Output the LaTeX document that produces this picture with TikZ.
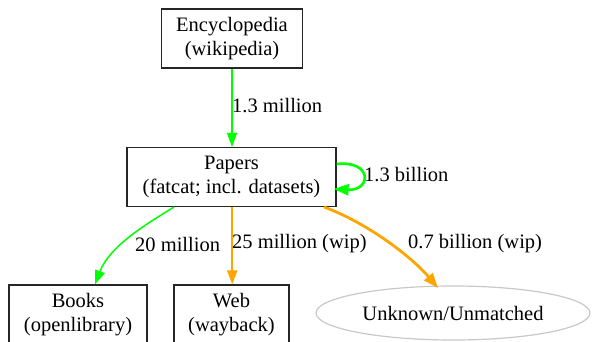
\documentclass[tikz,border=0pt]{standalone}
\usepackage{fontspec}
\setmainfont{Liberation Serif}
\usetikzlibrary{arrows.meta,shapes.geometric,calc}
\definecolor{gvgreen}{HTML}{00FF00}
\definecolor{gvorange}{HTML}{FFA500}
\definecolor{gvgray}{HTML}{C8C8C8}
\begin{document}
\begin{tikzpicture}[x=1pt,y=1pt,
  every node/.style={font=\fontsize{20.5}{24.5}\selectfont},
  boxnode/.style={draw=black!85,line width=1.2pt,rectangle,inner sep=0pt,align=center},
  lbl/.style={anchor=west,inner sep=0pt},
  tipA/.style={-{Triangle[length=14pt,width=10pt]}},
  thinedge/.style={tipA,line width=1.5pt},
  thickedge/.style={-{Triangle[length=15pt,width=11pt]},line width=2.8pt}]
\useasboundingbox (0,0) rectangle (592,-342);
\node[boxnode,minimum width=141pt,minimum height=59pt] (enc) at (232,-38.5) {Encyclopedia\\(wikipedia)};
\node[boxnode,minimum width=209pt,minimum height=59pt] (pap) at (231.5,-177) {Papers\\(fatcat; incl. datasets)};
\node[boxnode,minimum width=138pt,minimum height=59pt] (books) at (78,-314.5) {Books\\(openlibrary)};
\node[boxnode,minimum width=115pt,minimum height=59pt] (web) at (231.5,-314.5) {Web\\(wayback)};
\node[draw=gvgray,line width=1.2pt,ellipse,inner sep=0pt,minimum width=274pt,minimum height=54pt] (unk) at (453,-313) {Unknown/Unmatched};

\draw[thinedge,gvgreen] (enc.south) -- (pap.north -| enc.south);
\node[lbl] (l1) at (232,-106) {1.3 million};

\coordinate (ls) at ($(pap.east)+(0,13)$);
\coordinate (le) at ($(pap.east)+(-3,-12)$);
\draw[thickedge,gvgreen,line width=2.6pt] (ls) .. controls +(36,4) and +(38,-2) .. (le);
\node[lbl] (l2) at (364,-175) {1.3 billion};

\coordinate (gs) at (174,-207);
\draw[thinedge,gvgreen] (gs) .. controls (150,-222) and (110,-245) .. (books.north -| 95,0);
\node[lbl] (l3) at (135,-244) {20 million};

\coordinate (ws) at (232.2,-206.5);
\draw[thinedge,gvorange,line width=1.9pt] (ws) -- (web.north -| ws);
\node[lbl] (l4) at (232,-244) {25 million (wip)};

\coordinate (os) at (324,-207);
\draw[thickedge,gvorange] (os) .. controls (365,-222) and (410,-255) .. (438,-288);
\node[lbl] (l5) at (408,-244) {0.7 billion (wip)};
\end{tikzpicture}
\end{document}
